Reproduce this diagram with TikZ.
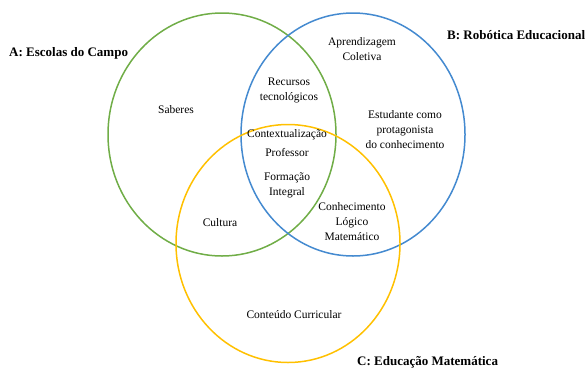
\documentclass[tikz,border=0pt]{standalone}
\usepackage{fontspec}
\setmainfont{Liberation Serif}
\usetikzlibrary{positioning}

\definecolor{campo}{RGB}{112,173,71}
\definecolor{robo}{RGB}{68,138,208}
\definecolor{mate}{RGB}{255,192,0}

\begin{document}
\begin{tikzpicture}[x=1pt,y=-1pt,
	conj/.style={line width=1.5pt},
	item/.style={align=center,inner sep=0pt,font=\fontsize{11.5}{15}\selectfont},
	titulo/.style={inner sep=0pt,font=\fontsize{13}{15}\selectfont\bfseries}]
		\useasboundingbox (0,0) rectangle (585,370);
		% conjuntos
		\draw[conj,campo] (222,134.5) ellipse [x radius=114,y radius=121.5];
		\draw[conj,robo] (353,134.5) ellipse [x radius=112,y radius=121.5];
		\draw[conj,mate] (288,243.5) ellipse [x radius=112,y radius=119];
		% titulos
		\node[titulo,anchor=west](tA) at (9,53) {A: Escolas do Campo};
		\node[titulo,anchor=west](tB) at (447,35) {B: Robótica Educacional};
		\node[titulo,anchor=west](tC) at (357,362) {C: Educação Matemática};
		% itens
		\node[item](saberes) at (176,110) {Saberes};
		\node[item](recursos) at (289,90) {Recursos\\tecnológicos};
		\node[item](aprend) at (362,49) {Aprendizagem\\Coletiva};
		\node[item](estudante) at (405,130) {Estudante como\\protagonista\\do conhecimento};
		\node[item](context) at (287,135) {Contextualização};
		\node[item](prof)[below=8pt of context] {Professor};
		\node[item](formacao) at (287,185) {Formação\\Integral};
		\node[item](cultura) at (220,223) {Cultura};
		\node[item](logico) at (352,222) {Conhecimento\\Lógico\\Matemático};
		\node[item](curric) at (294,315) {Conteúdo Curricular};
\end{tikzpicture}
\end{document}
